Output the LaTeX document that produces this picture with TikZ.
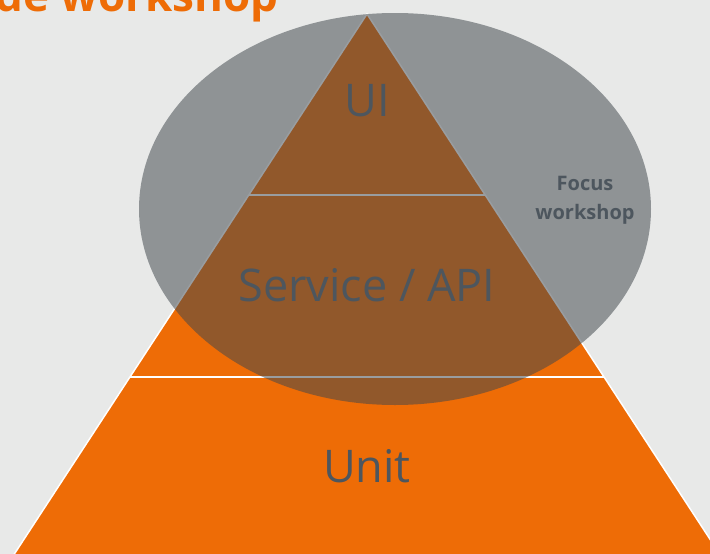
\documentclass[tikz,border=0pt]{standalone}
\usepackage{fontspec}
\setmainfont{Open Sans}
\definecolor{bg}{RGB}{232,233,232}
\definecolor{pyr}{RGB}{238,108,6}
\definecolor{ell}{RGB}{64,71,77}
\definecolor{txt}{RGB}{77,86,94}
\tikzset{
  layer/.style={font=\fontsize{45}{48}\selectfont, text=txt, inner sep=0pt},
  focus/.style={font=\bfseries\fontsize{20}{29}\selectfont, text=txt, align=center, inner sep=0pt},
  sep/.style={draw=white, line width=2pt}
}
\begin{document}
\begin{tikzpicture}[x=1pt,y=1pt]
\fill[bg] (0,0) rectangle (710,-554);
\useasboundingbox (0,0) rectangle (710,-554);
\clip (0,0) rectangle (710,-554);
% pyramid
\coordinate (apex) at (367,-14);
\coordinate (bl) at (-15.7,-600);
\coordinate (br) at (749.7,-600);
\fill[pyr] (apex) -- (bl) -- (br) -- cycle;
\draw[white, line width=1.5pt] (bl) -- (apex) -- (br);
\coordinate (l1a) at (248.8,-195);
\coordinate (l1b) at (485.2,-195);
\coordinate (l2a) at (130,-377);
\coordinate (l2b) at (604,-377);
\draw[sep] (l1a) -- (l1b);
\draw[sep] (l2a) -- (l2b);
% ellipse
\fill[ell, opacity=0.53] (395,-209) ellipse [x radius=256, y radius=196];
% title
\node[anchor=base west, text=pyr, font=\bfseries\fontsize{44}{48}\selectfont, inner sep=0pt] (title) at (-5,-11) {de workshop};
% labels
\node[layer] (ui) at (367,-101) {UI};
\node[layer] (svc) at (367,-285) {Service / API};
\node[layer] (unit) at (367,-466) {Unit};
\node[focus] (focus) at (585,-200) {Focus\\workshop};
\end{tikzpicture}
\end{document}
